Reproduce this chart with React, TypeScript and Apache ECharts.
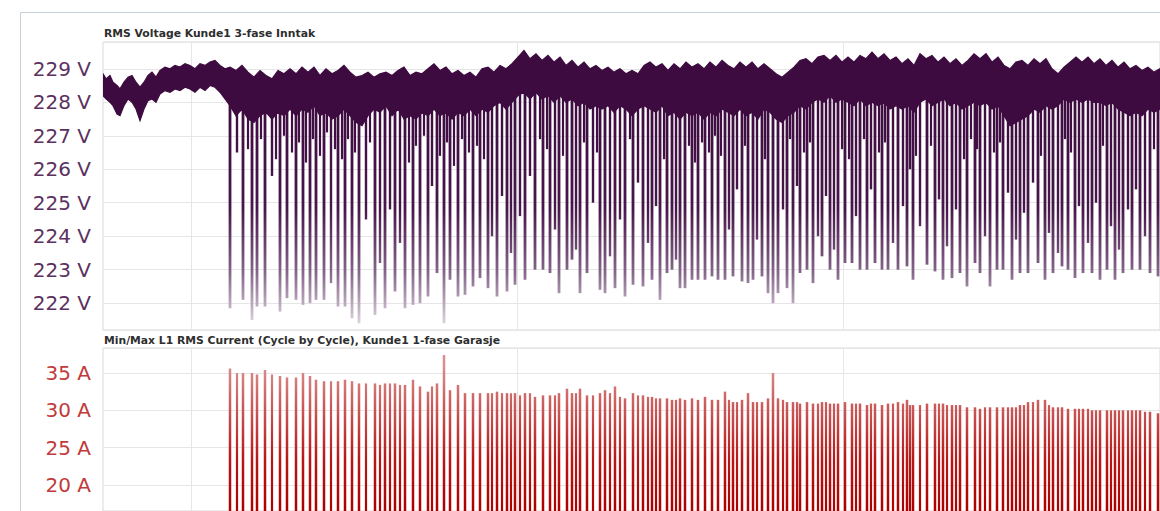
import React, { useEffect, useRef } from 'react';
import * as echarts from 'echarts';

// ---- axis / layout constants (time axis runs in sample units) ----
const X_MIN = 103;
const X_MAX = 1160;
const timeGridX = [191, 517, 843];

const voltTitle = 'RMS Voltage Kunde1 3-fase Inntak';
const ampTitle = 'Min/Max L1 RMS Current (Cycle by Cycle), Kunde1 1-fase Garasje';

// ---- RMS voltage envelope (min/max band of the dense trace) ----
const bandX = [
  103, 106, 110, 113, 117, 120, 124, 128, 132, 136, 140, 144, 148, 152, 156, 160, 165, 170, 175, 180, 185, 190, 195, 200, 205, 210, 215, 220, 225,
  230, 236, 242, 248, 254, 260, 266, 272, 278, 284, 290, 296, 302, 308, 314, 320, 326, 332, 338, 344, 350, 356, 362, 368, 374, 380, 386, 392, 398,
  404, 410, 416, 422, 428, 434, 440, 446, 452, 458, 464, 470, 476, 482, 488, 494, 500, 506, 512, 518, 524, 530, 536, 542, 548, 554, 560, 566, 572,
  578, 584, 590, 596, 602, 608, 614, 620, 626, 632, 638, 644, 650, 656, 662, 668, 674, 680, 686, 692, 698, 704, 710, 716, 722, 728, 734, 740, 746,
  752, 758, 764, 770, 776, 782, 788, 794, 800, 806, 812, 818, 824, 830, 836, 842, 848, 854, 860, 866, 872, 878, 884, 890, 896, 902, 908, 914, 920,
  926, 932, 938, 944, 950, 956, 962, 968, 974, 980, 986, 992, 998, 1004, 1010, 1016, 1022, 1028, 1034, 1040, 1046, 1052, 1058, 1064, 1070, 1076,
  1082, 1088, 1094, 1100, 1106, 1112, 1118, 1124, 1130, 1136, 1142, 1148, 1154, 1160,
];
const bandHigh = [
  228.85, 228.7, 228.8, 228.6, 228.5, 228.4, 228.6, 228.75, 228.8, 228.6, 228.45, 228.6, 228.8, 228.9, 228.75, 228.95, 229.05, 229.0, 229.1, 229.05, 229.15, 229.1, 229.0, 229.15, 229.1, 229.2, 229.25, 229.1, 229.0,
  229.05, 228.95, 229.1, 228.9, 228.75, 228.95, 228.8, 228.7, 228.95, 228.85, 229.0, 228.85, 229.05, 228.9, 229.05, 228.8, 229.0, 228.85, 228.95, 229.1, 228.9, 228.75, 228.8, 228.9, 228.75, 228.85, 228.9, 228.8, 228.95,
  229.05, 228.8, 228.9, 228.85, 229.0, 229.15, 228.95, 229.05, 228.85, 228.95, 228.8, 228.9, 228.75, 229.0, 229.05, 228.9, 229.1, 229.0, 229.15, 229.35, 229.55, 229.3, 229.45, 229.25, 229.4, 229.2, 229.35, 229.1, 229.25,
  229.05, 229.2, 229.0, 229.1, 228.95, 229.05, 228.9, 229.0, 228.85, 228.95, 228.85, 229.1, 229.2, 229.05, 229.15, 228.95, 229.15, 229.0, 229.2, 229.05, 229.15, 229.0, 229.2, 229.05, 229.25, 229.1, 229.0, 229.2, 229.05,
  229.2, 229.0, 229.15, 229.0, 228.85, 228.75, 228.9, 229.05, 229.25, 229.3, 229.15, 229.35, 229.4, 229.25, 229.4, 229.2, 229.35, 229.2, 229.4, 229.3, 229.5, 229.3, 229.45, 229.25, 229.35, 229.15, 229.3, 229.1, 229.45,
  229.3, 229.4, 229.2, 229.35, 229.15, 229.3, 229.1, 229.25, 229.45, 229.3, 229.45, 229.2, 229.35, 229.1, 229.0, 229.2, 229.25, 229.1, 229.3, 229.15, 229.3, 229.0, 228.85, 229.05, 229.2, 229.35,
  229.2, 229.35, 229.15, 229.3, 229.1, 229.25, 229.05, 229.2, 229.0, 229.1, 228.95, 229.05, 228.9, 229.0,
];
const bandLow = [
  228.2, 228.1, 228.0, 227.9, 227.65, 227.6, 227.9, 228.1, 228.0, 227.8, 227.45, 227.8, 228.05, 228.1, 228.0, 228.25, 228.35, 228.3, 228.4, 228.35, 228.45, 228.4, 228.3, 228.45, 228.35, 228.5, 228.45, 228.3, 228.1,
  227.9, 227.6, 227.8, 227.5, 227.4, 227.6, 227.7, 227.5, 227.7, 227.6, 227.8, 227.6, 227.8, 227.7, 227.9, 227.6, 227.7, 227.5, 227.6, 227.8, 227.6, 227.4, 227.3, 227.6, 227.8, 227.7, 227.9, 227.6, 227.8,
  227.5, 227.6, 227.5, 227.7, 227.6, 227.8, 227.6, 227.7, 227.5, 227.7, 227.6, 227.8, 227.6, 227.8, 227.7, 227.9, 228.0, 227.8, 228.0, 228.2, 228.3, 228.1, 228.3, 228.1, 228.2, 228.0, 228.2, 228.0, 228.1,
  227.9, 228.0, 227.8, 227.9, 227.8, 227.9, 227.7, 227.9, 227.8, 227.6, 227.8, 227.9, 227.8, 227.7, 227.9, 227.6, 227.7, 227.5, 227.7, 227.6, 227.7, 227.5, 227.7, 227.6, 227.8, 227.7, 227.6, 227.8, 227.6,
  227.7, 227.5, 227.8, 227.7, 227.5, 227.4, 227.6, 227.7, 227.9, 227.8, 228.0, 228.1, 228.0, 228.2, 228.0, 228.1, 228.0, 227.9, 228.1, 227.9, 228.0, 227.9, 228.0, 227.8, 227.9, 227.8, 227.9, 227.7, 228.0,
  228.1, 227.9, 228.0, 228.1, 227.9, 228.0, 227.8, 227.9, 228.0, 227.9, 228.0, 227.8, 227.9, 227.6, 227.3, 227.4, 227.5, 227.6, 227.8, 227.7, 227.9, 227.8, 227.9, 228.1, 228.0, 228.1,
  228.0, 228.1, 228.0, 228.0, 227.9, 228.0, 227.8, 227.7, 227.6, 227.7, 227.6, 227.8, 227.7, 227.8,
];

// ---- load events: position, voltage minimum, current maximum ----
const eventX = [
  230, 243, 252, 257, 265, 280, 287, 296, 303, 310, 316, 324, 338, 345, 352, 359,
  375, 385, 395, 405, 413, 420, 428, 437, 444, 450, 458, 465, 473, 480, 488, 497, 507, 515, 525, 535, 543, 550, 559, 567, 572, 580, 587, 600, 605, 615, 625, 633,
  643, 652, 660, 667, 672, 680, 685, 692, 698, 705, 712, 718, 725, 733, 742, 748, 753, 762, 768, 773, 778, 787, 793, 800, 807, 813, 822, 830, 838, 845, 852, 860, 867, 875, 882, 888, 898, 907,
  913, 927, 935, 943, 952, 960, 967, 975, 980, 990, 997, 1003, 1012, 1020, 1028, 1038, 1045, 1053, 1062, 1068, 1075, 1083, 1092, 1100, 1107, 1115, 1123, 1132, 1140, 1150, 1158,
];
const dipVolt = [
  221.85, 222.1, 221.5, 221.9, 221.9, 221.75, 222.15, 222.1, 221.95, 222.0, 222.1, 222.1, 221.9, 221.9, 221.55, 221.4,
  221.65, 221.85, 222.35, 221.85, 221.95, 222.0, 222.2, 222.9, 221.4, 222.7, 222.2, 222.25, 222.5, 222.75, 222.45, 222.2, 222.35, 222.55, 222.7, 223.0, 223.0, 222.9, 222.3, 223.0, 223.3, 222.3, 222.9, 222.4, 222.3, 222.45, 222.2, 222.55,
  222.5, 222.7, 222.1, 222.9, 223.0, 222.45, 222.45, 222.7, 222.7, 222.7, 222.8, 222.7, 222.7, 222.8, 222.65, 222.6, 222.7, 222.8, 222.3, 222.0, 222.3, 222.45, 222.0, 222.9, 223.0, 222.6, 223.4, 223.0, 222.7, 223.2, 223.2, 223.0, 223.0, 223.2, 223.0, 223.0, 223.0, 223.1,
  222.7, 223.15, 222.95, 222.7, 222.75, 222.9, 222.5, 223.2, 222.9, 222.5, 223.0, 223.0, 222.7, 222.9, 222.9, 223.2, 222.7, 222.9, 223.1, 223.0, 222.75, 222.9, 222.9, 222.7, 223.0, 222.7, 222.9, 223.0, 223.0, 222.9, 222.8,
];
const peakAmp = [
  35.6, 35.0, 35.0, 34.8, 35.4, 34.6, 34.4, 34.4, 35.0, 34.6, 34.1, 33.9, 33.9, 34.1, 33.9, 33.6,
  33.6, 33.6, 33.6, 33.4, 34.1, 33.2, 32.5, 33.6, 37.4, 32.7, 33.4, 32.3, 32.3, 32.3, 32.3, 32.5, 32.3, 32.3, 32.3, 31.8, 32.0, 32.0, 32.3, 32.9, 32.3, 32.9, 32.0, 32.3, 32.7, 33.2, 31.6, 32.3,
  32.0, 31.8, 31.6, 31.6, 31.4, 31.6, 31.4, 31.6, 31.4, 31.8, 31.4, 31.4, 32.5, 31.1, 31.4, 32.3, 31.1, 31.1, 31.6, 35.0, 31.6, 31.1, 31.1, 30.9, 31.1, 30.9, 31.1, 30.9, 30.9, 31.1, 30.9, 30.9, 30.7, 30.9, 30.7, 30.9, 31.1, 31.4,
  30.7, 30.9, 30.9, 30.9, 30.7, 30.7, 30.4, 30.4, 30.2, 30.4, 30.4, 30.4, 30.4, 30.7, 31.1, 31.4, 31.4, 30.4, 30.4, 30.2, 30.2, 30.2, 30.0, 30.0, 30.0, 30.0, 30.0, 30.0, 30.0, 29.8, 29.6,
];

// ---- shorter load events between the main ones ----
const minorX = [237, 272, 331, 366, 380, 390, 400, 432, 492, 502, 511, 520, 530, 555, 576, 593, 610, 620, 638, 648, 656, 676, 729, 737, 757, 783, 797, 818, 826, 834, 856, 871, 893, 903, 910, 920, 939, 947, 956, 985, 1008, 1016, 1024, 1033, 1049, 1058, 1079, 1088, 1096, 1111, 1119, 1128, 1136, 1145];
const minorVolt = [226.5, 225.8, 222.6, 224.5, 223.2, 224.8, 223.8, 225.5, 224.0, 225.2, 223.5, 224.6, 225.8, 224.2, 223.6, 225.0, 223.4, 224.5, 225.6, 223.8, 224.9, 223.3, 224.2, 225.4, 223.9, 224.8, 225.5, 224.0, 225.2, 223.6, 224.6, 225.4, 223.8, 224.9, 226.0, 224.3, 225.1, 223.7, 224.8, 224.0, 225.3, 223.9, 224.7, 225.6, 224.1, 223.5, 224.9, 223.8, 225.0, 224.3, 223.6, 224.8, 225.4, 224.0];
const minorAmp = [35.0, 34.8, 33.9, 33.6, 33.4, 33.6, 33.4, 33.2, 32.3, 32.3, 32.3, 32.0, 32.3, 32.0, 32.3, 32.0, 32.3, 31.8, 32.0, 31.8, 31.6, 31.4, 31.4, 31.1, 31.1, 31.4, 31.1, 30.9, 31.1, 30.9, 30.9, 30.9, 30.9, 30.9, 30.7, 30.7, 30.9, 30.7, 30.7, 30.4, 30.4, 30.4, 30.7, 31.1, 30.7, 30.4, 30.2, 30.2, 30.0, 30.0, 30.0, 30.0, 30.0, 29.8];

// ---- brief shallow sags just under the dense band ----
const shallowX = [248, 261, 276, 284, 292, 299, 306, 313, 320, 327, 335, 342, 348, 355, 370, 409, 416, 424, 440, 447, 454, 462, 469, 477, 484, 540, 547, 563, 584, 597, 630, 664, 689, 695, 702, 709, 715, 721, 745, 765, 790, 804, 810, 842, 849, 864, 879, 885, 916, 931, 964, 971, 977, 994, 1000, 1041, 1065, 1071, 1103, 1154];
const shallowVolt = [226.6, 226.9, 226.3, 227.0, 226.5, 226.8, 226.2, 226.9, 226.4, 227.1, 226.6, 226.3, 226.9, 226.5, 226.8, 226.2, 226.7, 227.0, 226.4, 226.8, 226.1, 226.9, 226.5, 226.7, 226.3, 226.9, 226.6, 226.4, 226.8, 226.5, 226.9, 226.3, 226.7, 226.2, 226.8, 226.5, 227.0, 226.4, 226.7, 226.3, 226.9, 226.5, 226.8, 226.6, 226.3, 226.9, 226.5, 226.8, 226.4, 226.7, 226.3, 226.9, 226.6, 226.5, 226.8, 226.4, 226.9, 226.5, 226.7, 226.6];

const DIP_BASE = 228.3;
const V_MIN = 221.2;
const V_MAX = 229.8;
const A_MIN = 16.5;
const A_MAX = 38.35;

export default function App() {
  const ref = useRef<HTMLDivElement>(null);

  useEffect(() => {
    if (!ref.current) return;
    const chart = echarts.init(ref.current, undefined, { renderer: 'svg' });

    const purple = '#3d0b40';
    const dipStops = [
      { offset: 0, color: '#3d0b40' },
      { offset: 0.5, color: '#47164a' },
      { offset: 0.78, color: '#85668a' },
      { offset: 1, color: '#ddd0de' },
    ];
    const ampStops = [
      { offset: 0, color: '#da8e8e' },
      { offset: 0.3, color: '#c95656' },
      { offset: 0.65, color: '#b81616' },
      { offset: 1, color: '#ad0000' },
    ];

    const gridLine = { lineStyle: { color: '#e6e6e6', width: 1 } };
    const hidden = { show: false };
    const vMarks = {
      z: 1, silent: true, symbol: 'none', label: { show: false },
      lineStyle: { color: '#e6e6e6', width: 1, type: 'solid' },
      data: timeGridX.map((x) => ({ xAxis: x })),
    };

    const dipRenderer = (width: number) => (_p: any, api: any) => {
      const x = api.value(0);
      const a = api.coord([x, DIP_BASE]);
      const b = api.coord([x, api.value(1)]);
      const g1 = api.coord([x, 221.4])[1];
      return {
        type: 'line',
        shape: { x1: a[0], y1: a[1], x2: b[0], y2: b[1] },
        style: { stroke: new echarts.graphic.LinearGradient(0, a[1], 0, g1, dipStops, true), lineWidth: width },
      };
    };
    const ampRenderer = (width: number) => (_p: any, api: any) => {
      const x = api.value(0);
      const a = api.coord([x, api.value(1)]);
      const b = api.coord([x, A_MIN]);
      const g0 = api.coord([x, 36])[1];
      return {
        type: 'rect',
        shape: { x: a[0] - width / 2, y: a[1], width, height: b[1] - a[1] },
        style: { fill: new echarts.graphic.LinearGradient(0, g0, 0, b[1], ampStops, true) },
      };
    };

    const option: any = {
      animation: false,
      backgroundColor: '#ffffff',
      grid: [
        { left: 103, top: 42, width: X_MAX - X_MIN, height: 288, show: true, borderColor: '#d9d9d9', borderWidth: 1 },
        { left: 103, top: 348, width: X_MAX - X_MIN, height: 163, show: true, borderColor: '#d9d9d9', borderWidth: 1 },
      ],
      xAxis: [
        { gridIndex: 0, type: 'value', min: X_MIN, max: X_MAX, axisLine: hidden, axisTick: hidden, axisLabel: hidden, splitLine: hidden },
        { gridIndex: 1, type: 'value', min: X_MIN, max: X_MAX, axisLine: hidden, axisTick: hidden, axisLabel: hidden, splitLine: hidden },
      ],
      yAxis: [
        {
          gridIndex: 0, type: 'value', min: V_MIN, max: V_MAX, splitNumber: 8,
          axisLine: hidden, axisTick: hidden, splitLine: gridLine,
          axisLabel: {
            color: '#5c3160', fontSize: 20, fontFamily: 'DejaVu Sans', margin: 12,
            formatter: (v: number) => (Math.abs(v - Math.round(v)) < 1e-6 ? `${Math.round(v)} V` : ''),
          },
        },
        {
          gridIndex: 1, type: 'value', min: A_MIN, max: A_MAX, splitNumber: 4,
          axisLine: hidden, axisTick: hidden, splitLine: gridLine,
          axisLabel: {
            color: '#c23a3a', fontSize: 20, fontFamily: 'DejaVu Sans', margin: 12,
            formatter: (v: number) => (Math.abs(v / 5 - Math.round(v / 5)) < 1e-6 ? `${Math.round(v)} A` : ''),
          },
        },
      ],
      graphic: [
        {
          type: 'rect', silent: true, z: 100,
          shape: { x: 20.5, y: 12.5, width: 1300, height: 700 },
          style: { fill: 'none', stroke: '#c7cfd7', lineWidth: 1 },
        },
        {
          type: 'text', x: 104, y: 33, silent: true,
          style: { text: voltTitle, font: 'bold 10.8px "DejaVu Sans"', fill: '#2e2e2e', verticalAlign: 'middle' },
        },
        {
          type: 'text', x: 104, y: 340, silent: true,
          style: { text: ampTitle, font: 'bold 10.8px "DejaVu Sans"', fill: '#2e2e2e', verticalAlign: 'middle' },
        },
      ],
      series: [
        { name: 'grid-v0', type: 'line', z: 1, xAxisIndex: 0, yAxisIndex: 0, data: [], markLine: vMarks },
        { name: 'grid-v1', type: 'line', z: 1, xAxisIndex: 1, yAxisIndex: 1, data: [], markLine: vMarks },
        {
          name: 'voltage sags (shallow)', type: 'custom', z: 3, xAxisIndex: 0, yAxisIndex: 0, clip: true, silent: true,
          data: shallowX.map((x, i) => [x, shallowVolt[i]]), renderItem: dipRenderer(2.2),
        },
        {
          name: 'voltage dips (minor)', type: 'custom', z: 3, xAxisIndex: 0, yAxisIndex: 0, clip: true, silent: true,
          data: minorX.map((x, i) => [x, minorVolt[i]]), renderItem: dipRenderer(2.4),
        },
        {
          name: 'voltage dips', type: 'custom', z: 3, xAxisIndex: 0, yAxisIndex: 0, clip: true, silent: true,
          data: eventX.map((x, i) => [x, dipVolt[i]]), renderItem: dipRenderer(2.8),
        },
        {
          name: 'voltage band', type: 'custom', z: 4, xAxisIndex: 0, yAxisIndex: 0, clip: true, silent: true,
          data: [[bandX[0], bandHigh[0]]],
          renderItem: (_p: any, api: any) => {
            const top = bandX.map((x, i) => api.coord([x, bandHigh[i]]));
            const bot = bandX.map((x, i) => api.coord([x, bandLow[i]])).reverse();
            return {
              type: 'polygon',
              shape: { points: top.concat(bot) },
              style: { fill: purple, stroke: purple, lineWidth: 1.2 },
            };
          },
        },
        {
          name: 'current (minor)', type: 'custom', z: 3, xAxisIndex: 1, yAxisIndex: 1, clip: true, silent: true,
          data: minorX.map((x, i) => [x, minorAmp[i]]), renderItem: ampRenderer(2.2),
        },
        {
          name: 'current', type: 'custom', z: 3, xAxisIndex: 1, yAxisIndex: 1, clip: true, silent: true,
          data: eventX.map((x, i) => [x, peakAmp[i]]), renderItem: ampRenderer(2.5),
        },
      ],
    };

    chart.setOption(option);
    return () => chart.dispose();
  }, []);

  return (
    <div
      ref={ref}
      style={{ position: 'fixed', left: 0, top: 0, width: 1160, height: 511, background: '#fff' }}
    />
  );
}
